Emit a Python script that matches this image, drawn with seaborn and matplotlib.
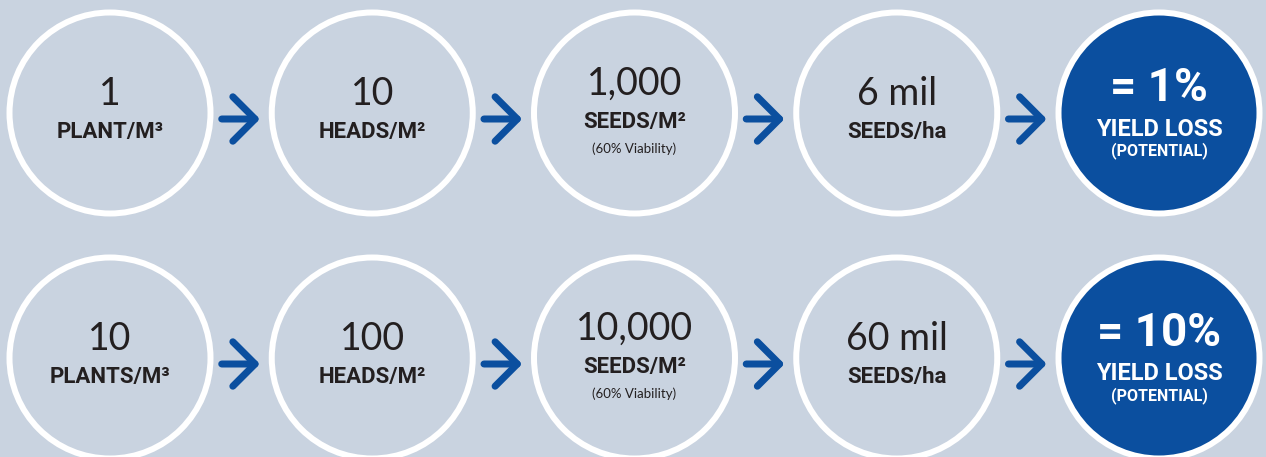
"""
plot.py

Weed seed-bank infographic: plants -> heads -> seeds -> seeds/ha -> yield loss.
Saves out.png (1266 x 457 px).
"""

import pandas as pd
import matplotlib
matplotlib.use('Agg')
import matplotlib.pyplot as plt
import seaborn as sns

# ── Data ──────────────────────────────────────────────────────────────────────
steps        = [0, 1, 2, 3, 4]
step_kind    = ["step", "step", "step", "step", "result"]

row1_values  = ["1", "10", "1,000", "6 mil", "= 1%"]
row1_units   = ["PLANT/M³", "HEADS/M²", "SEEDS/M²", "SEEDS/ha", "YIELD LOSS"]

row2_values  = ["10", "100", "10,000", "60 mil", "= 10%"]
row2_units   = ["PLANTS/M³", "HEADS/M²", "SEEDS/M²", "SEEDS/ha", "YIELD LOSS"]

step_notes   = ["", "", "(60% Viability)", "", "(POTENTIAL)"]

# ── Style ─────────────────────────────────────────────────────────────────────
BG      = '#c9d3e0'
BLUE    = '#0b4f9f'
INK     = '#231f20'
NUM_FONT   = ['Lato', 'DejaVu Sans']
LABEL_FONT = ['Roboto', 'DejaVu Sans']
PX = 0.72  # points per pixel at dpi 100

sns.set_theme(style='white')
plt.rcParams['font.family'] = ['DejaVu Sans']

df = pd.DataFrame({
    'step': steps * 2,
    'row':  [0] * 5 + [1] * 5,
    'kind': step_kind * 2,
    'value': row1_values + row2_values,
    'unit':  row1_units + row2_units,
    'note':  step_notes * 2,
})

fig = plt.figure(figsize=(12.66, 4.57), dpi=100, facecolor=BG)
ax = fig.add_axes([0, 0, 1, 1])
ax.set_facecolor(BG)

# ── Circles: one marker per step, white ring ──────────────────────────────────
sns.scatterplot(
    data=df, x='step', y='row', hue='kind',
    palette={'step': BG, 'result': BLUE},
    s=(201 * PX) ** 2, edgecolor='white', linewidth=6 * PX,
    legend=False, ax=ax, zorder=2,
)

# pixel layout: step centres 110 + 262.25*i, rows at 113 / 358
ax.set_xlim(-110 / 262.25, (1266 - 110) / 262.25)
ax.set_ylim((457 - 113) / 245, -113 / 245)
ax.axis('off')

# ── Arrows between circles (sit ~6 px below the circle centre) ────────────────
arrow_dy = 6 / 245
for r in df['row'].unique():
    for s in steps[:-1]:
        ax.annotate(
            '', xy=(s + 0.5 + 0.072, r + arrow_dy),
            xytext=(s + 0.5 - 0.074, r + arrow_dy),
            arrowprops=dict(arrowstyle='->, head_length=0.8, head_width=0.8',
                            color=BLUE, lw=7 * PX, capstyle='round',
                            joinstyle='round', mutation_scale=20,
                            shrinkA=0, shrinkB=0),
            zorder=3,
        )


def put(x, y, dy_px, text, **kw):
    ax.annotate(text, xy=(x, y), xytext=(0, -dy_px * PX),
                textcoords='offset points', ha='center', va='center',
                zorder=4, **kw)


# ── Text inside the circles ───────────────────────────────────────────────────
for _, row in df.iterrows():
    x, y = row['step'], row['row']
    if row['kind'] == 'result':
        put(x, y, -25, row['value'], fontsize=33, fontweight='bold',
            color='white', family=LABEL_FONT)
        put(x, y, 16, row['unit'], fontsize=17, fontweight='bold',
            color='white', family=LABEL_FONT)
        put(x, y, 38, row['note'], fontsize=11.5, fontweight='bold',
            color='white', family=LABEL_FONT)
    elif row['note']:
        put(x, y, -29, row['value'], fontsize=27, color=INK, family=NUM_FONT)
        put(x, y, 9, row['unit'], fontsize=16, fontweight='bold',
            color=INK, family=LABEL_FONT)
        put(x, y, 36, row['note'], fontsize=9.5, color=INK, family=NUM_FONT)
    else:
        put(x, y, -19, row['value'], fontsize=27, color=INK, family=NUM_FONT)
        put(x, y, 19, row['unit'], fontsize=16, fontweight='bold',
            color=INK, family=LABEL_FONT)

fig.savefig('out.png', dpi=100, facecolor=BG)
plt.close(fig)
